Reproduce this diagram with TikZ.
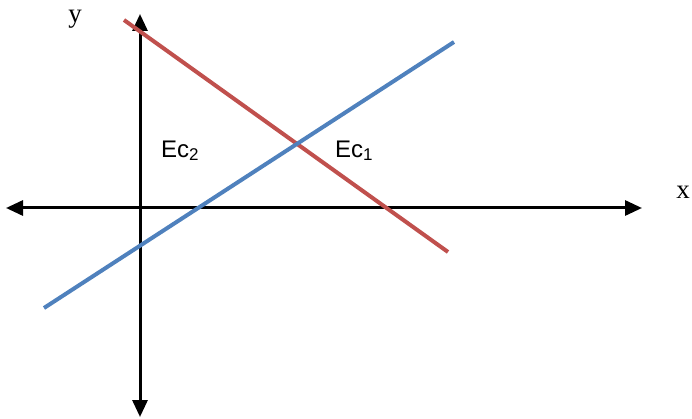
\documentclass[tikz,border=0pt]{standalone}
\usepackage{fontspec}
\setmainfont{Liberation Serif}
\newfontfamily\arialfont{Liberation Sans}
\usetikzlibrary{arrows.meta}
\definecolor{redline}{HTML}{C0504D}
\definecolor{blueline}{HTML}{4F81BD}
\tikzset{
  axis/.style={line width=3pt, -{Triangle[length=17pt,width=15pt]}},
  graphline/.style={line width=4pt},
  axlabel/.style={font=\fontsize{27}{30}\selectfont, inner sep=0pt},
  eclabel/.style={font=\arialfont\fontsize{24}{28}\selectfont, inner sep=0pt, anchor=west}
}
\begin{document}
\begin{tikzpicture}[x=1pt,y=-1pt]
\useasboundingbox (0,0) rectangle (692,419);
\coordinate (r1) at (124,20);
\coordinate (r2) at (448,252);
\coordinate (b1) at (44,308);
\coordinate (b2) at (454,42);
\coordinate (xl) at (140,208);
\coordinate (xL) at (6,208);
\coordinate (xR) at (642,208);
\coordinate (yT) at (140,14);
\coordinate (yB) at (140,417);
\draw[axis] (xl) -- (xL);
\draw[axis] (xl) -- (xR);
\draw[axis] (xl) -- (yT);
\draw[axis] (xl) -- (yB);
\draw[graphline, redline] (r1) -- (r2);
\draw[graphline, blueline] (b1) -- (b2);
\node[axlabel] (ylab) at (75,19) {y};
\node[axlabel] (xlab) at (683,192) {x};
\node[eclabel] (ec2) at (161,151) {Ec\raisebox{-0.25ex}{\fontsize{17}{19}\selectfont 2}};
\node[eclabel] (ec1) at (335,151) {Ec\raisebox{-0.25ex}{\fontsize{17}{19}\selectfont 1}};
\end{tikzpicture}
\end{document}
